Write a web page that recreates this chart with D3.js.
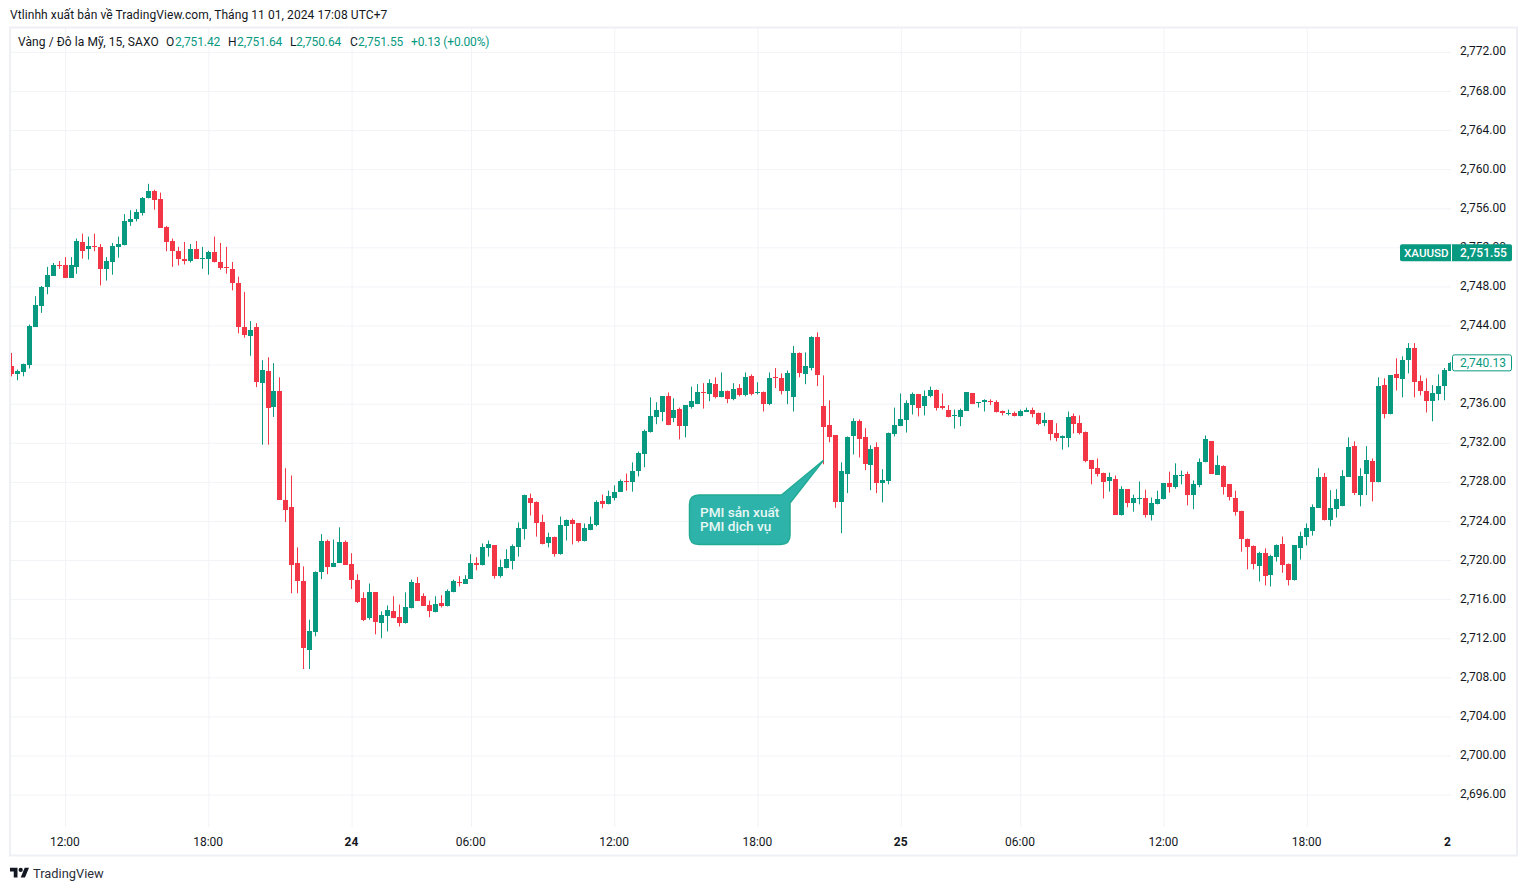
<!DOCTYPE html>
<html>
<head>
<meta charset="utf-8">
<script src="https://cdn.jsdelivr.net/npm/d3@7"></script>
<style>
  html, body { margin: 0; padding: 0; background: #fff; }
  svg { display: block; }
  text { font-family: Roboto, "Noto Sans", sans-serif; }
</style>
</head>
<body>
<svg id="chart"></svg>
<script>
const opens = [
  2739.9,2739,2739.2,2740,2743.9,2746,2747.9,2749.1,2750.2,2750.2,
  2748.9,2750,2752.5,2751.8,2752.15,2752.05,2749.8,2750.55,2752.05,2752.25,
  2754.6,2754.85,2755.55,2757,2757.8,2756.95,2754.1,2752.6,2751.6,2750.8,
  2750.65,2751.85,2750.85,2750.85,2751.55,2750.5,2750,2749.8,2748.35,2743.85,
  2742.95,2743.85,2738.1,2739.3,2735.65,2737.25,2726.1,2725.4,2719.65,2717.9,
  2710.8,2712.65,2718.8,2722,2719.3,2719.7,2721.8,2719.55,2718,2716.1,
  2714.05,2716.7,2713.6,2714.25,2714.75,2714.15,2713.6,2715.05,2717.7,2716.3,
  2715.45,2714.65,2715.65,2715.25,2716.7,2717.8,2717.6,2718.1,2719.65,2719.45,
  2721.2,2721.5,2718.4,2719.15,2719.95,2721.3,2723.15,2726.3,2725.9,2723.85,
  2721.7,2722.4,2720.65,2723.45,2724.05,2723.75,2721.9,2723.05,2723.55,2726,
  2725.7,2726.4,2727,2728.05,2727.95,2729.15,2730.9,2733.15,2734.6,2735.2,
  2736.75,2734.5,2735.5,2733.7,2735.7,2735.95,2737.15,2736.95,2738,2736.65,
  2737.25,2736.45,2737.6,2736.85,2738.8,2737.05,2737.15,2735.95,2738.7,2738.6,
  2737.25,2736.65,2741.15,2739,2739.7,2742.8,2735.75,2733.8,2732.75,2725.9,
  2728.85,2732.65,2734.2,2732.55,2729.7,2731.55,2727.85,2728.05,2732.95,2733.7,
  2734.3,2735.85,2736.95,2735.75,2736.75,2737.45,2735.75,2735.4,2734.7,2734.6,
  2735.3,2737.05,2736.05,2736.2,2736.25,2736.15,2735.3,2735,2735,2734.7,
  2735.2,2735.4,2735,2734,2734.3,2733.05,2732.5,2732.45,2734.7,2734,
  2733.15,2730.2,2729.4,2728.95,2728.05,2728.25,2724.65,2727.25,2725.8,2726.2,
  2726.4,2724.65,2725.7,2726.2,2727.85,2727.5,2728.65,2728.85,2726.7,2727.65,
  2730,2732.15,2728.75,2729.6,2727.75,2726.3,2725.05,2722.2,2721.4,2719.35,
  2720.75,2718.5,2720.35,2721.6,2719.55,2718,2721.2,2722.4,2723,2725.35,
  2728.45,2724.15,2725.2,2725.5,2728.55,2731.65,2726.7,2728.8,2730.1,2727.95,
  2737.9,2734.9,2739,2738.5,2740.45,2741.7,2738.3,2737.35,2736.25,2736.95,2737.8,2739.35
];
const highs = [
  2741.2,2739.5,2740.1,2744.1,2747,2748.05,2750,2750.4,2750.6,2751,
  2751,2752.9,2753.4,2753.1,2753.4,2752.35,2751,2752.45,2753.1,2755.4,
  2755.8,2755.9,2757.15,2758.5,2757.9,2757.6,2754.2,2752.9,2752.05,2752.55,
  2752.35,2752.65,2752.05,2751.65,2753.1,2752.45,2752.05,2750.5,2749,2747.45,
  2744.45,2744.25,2740.45,2740.75,2740.15,2738.7,2729.4,2728.65,2721.3,2719.35,
  2713.9,2718.85,2722.65,2722.1,2722.1,2723.35,2722,2720.7,2718.55,2716.7,
  2717.6,2716.7,2714.75,2715.35,2716.3,2715.45,2716.7,2718,2718.25,2716.6,
  2715.85,2716.3,2716.4,2717,2718,2718.35,2718.45,2720.6,2720.3,2721.7,
  2722,2721.5,2720.05,2721.1,2721.6,2723.85,2726.7,2726.8,2726,2724.65,
  2722.8,2722.4,2724.45,2724.15,2724.25,2723.75,2723.75,2724.45,2726.1,2726.7,
  2727.1,2727.65,2728.25,2728.85,2730,2731.1,2733.35,2736.65,2736.15,2736.75,
  2737.15,2736.55,2735.6,2735.85,2737.75,2738,2738.1,2738.5,2738.7,2739.2,
  2737.35,2738.1,2738,2739.2,2739,2738.2,2737.25,2739.2,2739.65,2739.1,
  2739.4,2741.9,2741.25,2741.25,2742.9,2743.3,2738.9,2736.35,2732.75,2730,
  2732.65,2734.5,2734.4,2733.5,2731.75,2732.05,2729.3,2733.05,2735.6,2737.05,
  2736.35,2737.15,2736.95,2737.35,2737.75,2737.45,2737.05,2735.85,2735.4,2735.5,
  2737.15,2737.05,2736.15,2736.45,2736.45,2736.35,2735.3,2735.4,2735.2,2735.4,
  2735.6,2735.6,2735.1,2735.1,2734.3,2734,2732.75,2735.2,2735,2734.8,
  2733.15,2730.2,2730.4,2728.95,2728.95,2728.65,2727.55,2727.25,2726.7,2728.05,
  2727.2,2726.4,2727.1,2727.85,2729.05,2729.9,2729.15,2729.05,2728.15,2730.4,
  2732.75,2732.15,2730.7,2729.7,2727.75,2727.1,2725.05,2722.2,2721.5,2720.85,
  2721.2,2720.55,2721.6,2722.4,2719.65,2721.5,2722.9,2723.75,2725.7,2729.4,
  2728.9,2727.15,2727.25,2729.2,2732.55,2732.15,2729.4,2731.65,2730.4,2738.7,
  2738.6,2738.9,2740.65,2740.85,2742.2,2742.2,2738.9,2738.6,2737.9,2739,2739.65,2740.25
];
const lows = [
  2738.8,2738.4,2738.8,2739.6,2743.9,2745.3,2747.2,2749.1,2749.8,2748.9,
  2748.9,2749.3,2750.85,2750.75,2751.6,2748.1,2748.6,2749.2,2750.95,2752.2,
  2754.2,2754.65,2755.25,2757,2755.85,2754,2751.6,2750,2750.15,2750.25,
  2750.45,2750.85,2749.8,2749.2,2750.45,2749.7,2749.3,2747.6,2743.2,2742.75,
  2740.9,2737.7,2731.8,2731.8,2734.65,2726.15,2723.9,2716.6,2716.6,2708.85,
  2708.85,2712.2,2718.05,2718.55,2719.3,2719.7,2719.5,2717.05,2715.6,2713.75,
  2713.9,2712.4,2712,2712.7,2714.05,2713.2,2713.5,2715.05,2715.85,2715.35,
  2714.15,2714.65,2715.15,2715.25,2716.7,2717.3,2717.6,2718.1,2718.95,2719.45,
  2720.35,2718.1,2718.2,2719.15,2719.05,2720.35,2722.1,2724.55,2722.4,2721.6,
  2721.3,2720.35,2720.55,2722,2721.6,2721.8,2721.9,2723.05,2723.45,2725.3,
  2725.7,2726.1,2727,2727.1,2727,2728.55,2729.5,2733.05,2733.9,2734.2,
  2733.8,2734.1,2732.35,2732.55,2735.5,2735.95,2735.5,2736.25,2736.55,2736.65,
  2736.05,2736.35,2736.75,2736.75,2736.85,2736.95,2735.2,2735.85,2737.6,2736.95,
  2735.95,2735.2,2738.7,2738,2739.4,2737.8,2729.8,2732.05,2725.35,2722.75,
  2726.85,2730.8,2730.5,2729.2,2727.15,2726.85,2725.9,2727.75,2732.65,2733.7,
  2733.05,2734.9,2734.7,2734.8,2736.65,2735.3,2735.4,2734.6,2733.45,2733.7,
  2735.3,2735.95,2735.6,2735.2,2735.85,2735.1,2734.8,2734.8,2734.7,2734.7,
  2735.2,2734.6,2733.8,2733.7,2732.25,2732.15,2731.3,2731.55,2732.95,2732.85,
  2730,2727.75,2728.55,2726.3,2727,2724.65,2724.55,2725.4,2724.95,2725.7,
  2724.35,2724.05,2725.7,2726.2,2726.9,2727.3,2727.75,2725.6,2725.2,2727.45,
  2730,2728.85,2728.75,2726.7,2726.1,2724.55,2720.85,2719.05,2719.05,2717.8,
  2717.4,2717.3,2719.85,2718.7,2717.4,2717.9,2720.05,2721.5,2722.5,2725.35,
  2724.05,2723.45,2724.35,2725.5,2728.55,2726.65,2725.5,2726.65,2726,2727.95,
  2734.5,2734.9,2737.35,2736.65,2739.1,2736.65,2736.85,2735.1,2734.2,2736.35,2736.35,2739.35
];
const closes = [
  2739,2739.3,2740.1,2744,2746.1,2747.95,2749.2,2750.2,2750.1,2748.9,
  2750.2,2752.6,2751.6,2752.15,2752,2749.8,2750.6,2752.15,2752.35,2754.7,
  2754.9,2755.6,2757.05,2757.8,2756.8,2754,2752.5,2751.65,2750.85,2750.65,
  2751.85,2750.85,2750.9,2751.55,2750.45,2749.9,2749.9,2748.4,2743.8,2743,
  2743.5,2738.25,2739.5,2735.55,2737.25,2726.15,2725.1,2719.5,2717.85,2711,
  2712.7,2718.75,2722,2719.3,2719.75,2721.8,2719.5,2717.95,2715.75,2713.9,
  2716.7,2713.7,2714.35,2714.85,2714.05,2713.6,2715.15,2717.8,2715.85,2715.35,
  2714.75,2715.55,2715.25,2716.8,2717.9,2717.7,2718.1,2719.65,2719.45,2721.3,
  2721.6,2718.4,2719.25,2720.15,2721.4,2723.25,2726.7,2725.8,2723.75,2721.6,
  2722.4,2720.65,2723.55,2724.05,2723.65,2722,2723.25,2723.65,2725.9,2725.7,
  2726.6,2727,2728.05,2727.95,2729.15,2731,2733.25,2734.7,2735.4,2736.75,
  2733.8,2735.4,2733.7,2735.85,2736.25,2737.15,2737.05,2738.1,2736.65,2737.25,
  2736.45,2737.5,2736.85,2738.7,2736.95,2737.15,2735.95,2738.6,2738.6,2737.35,
  2739.1,2741.15,2739.1,2739.85,2742.8,2738.9,2733.6,2732.55,2725.9,2729.1,
  2732.55,2734.2,2732.35,2729.8,2731.35,2727.85,2728.15,2733.05,2733.8,2734.4,
  2736.05,2736.95,2735.6,2736.75,2737.45,2735.6,2735.6,2734.6,2734.8,2735.4,
  2737.15,2735.95,2736.15,2736.35,2736.15,2735.2,2735,2735.1,2734.7,2735.3,
  2735.4,2734.9,2733.9,2734.3,2732.85,2732.45,2732.65,2734.6,2733.9,2733.05,
  2730.1,2729.3,2728.85,2727.95,2728.55,2724.65,2727.25,2725.8,2726.3,2726.4,
  2724.65,2725.8,2726.2,2727.85,2727.5,2728.75,2728.75,2726.7,2727.75,2730,
  2732.35,2728.85,2729.7,2727.5,2726.5,2724.95,2722.2,2721.3,2719.55,2720.75,
  2718.4,2720.45,2721.5,2719.45,2718,2721.5,2722.5,2723.25,2725.4,2728.45,
  2724.15,2725.3,2726.2,2728.65,2731.55,2726.85,2728.65,2730.2,2727.95,2737.8,
  2734.9,2738.9,2738.6,2740.45,2741.7,2738.2,2737.25,2736.25,2737.05,2737.8,2739.4,2740.13
];
// bar index of each time label
const timeTickBars = [9, 33, 57, 77, 101, 125, 149, 169, 193, 217, 240.6];
const timeTickLabels = ["12:00", "18:00", "24", "06:00", "12:00", "18:00", "25", "06:00", "12:00", "18:00", "2"];
const dayLabels = ["24", "25", "2"];
const priceTicks = d3.range(2696, 2773, 4);

const symbolTitle = "Vàng / Đô la Mỹ, 15, SAXO";
const publishLine = "Vtlinhh xuất bản về TradingView.com, Tháng 11 01, 2024 17:08 UTC+7";
const ohlcLabels = ["O", "H", "L", "C"];
const ohlcValues = ["2,751.42", "2,751.64", "2,750.64", "2,751.55"];
const changeText = "+0.13 (+0.00%)";
const overlayPrice = 2751.55;
const lastPrice = 2740.13;
const noteLines = ["PMI sản xuất", "PMI dịch vụ"];
const noteBar = 136;
const notePrice = 2730.2;

const upColor = "#089981";
const downColor = "#f23645";
const gridColor = "#f2f3f7";
const borderColor = "#eff0f5";
const textColor = "#131722";

const width = 1527;
const height = 891;
const pane = { left: 11, right: 1451, top: 28, bottom: 827 };

const svg = d3.select("#chart").attr("width", width).attr("height", height);

const x = d3.scaleLinear().domain([0, 241]).range([11.3, 1450.1]);
const y = d3.scaleLinear().domain([2696, 2772]).range([794.6, 51.9]);
const snap = (v) => Math.round(v - 0.5) + 0.5;

svg.append("defs").append("clipPath").attr("id", "pane")
  .append("rect")
  .attr("x", pane.left).attr("y", pane.top)
  .attr("width", pane.right - pane.left).attr("height", pane.bottom - pane.top);

// Frame around chart and axes.
svg.append("rect")
  .attr("x", 10).attr("y", 27.5)
  .attr("width", 1507).attr("height", 828)
  .attr("fill", "none")
  .attr("stroke", borderColor)
  .attr("stroke-width", 2);

// Grid, drawn with the axis generators.
const hGrid = svg.append("g")
  .attr("transform", `translate(${pane.left},0)`)
  .call(d3.axisRight(y).tickValues(priceTicks).tickSize(pane.right - pane.left).tickFormat(""));
hGrid.select(".domain").remove();
hGrid.selectAll("line").attr("stroke", gridColor);

const vGrid = svg.append("g")
  .attr("transform", `translate(0,${pane.bottom})`)
  .call(d3.axisTop(x).tickValues(timeTickBars.slice(0, -1)).tickSize(pane.bottom - pane.top).tickFormat(""));
vGrid.select(".domain").remove();
vGrid.selectAll("line").attr("stroke", gridColor);

// Candles.
const candles = svg.append("g").attr("clip-path", "url(#pane)");
const bars = d3.range(opens.length);
const barColor = (i) => (closes[i] >= opens[i] ? upColor : downColor);

candles.selectAll("line")
  .data(bars)
  .join("line")
  .attr("x1", (i) => snap(x(i)))
  .attr("x2", (i) => snap(x(i)))
  .attr("y1", (i) => y(highs[i]))
  .attr("y2", (i) => y(lows[i]))
  .attr("stroke", barColor)
  .attr("stroke-width", 1);

candles.selectAll("rect")
  .data(bars)
  .join("rect")
  .attr("x", (i) => snap(x(i)) - 2.5)
  .attr("width", 5)
  .attr("y", (i) => Math.round(y(Math.max(opens[i], closes[i]))))
  .attr("height", (i) =>
    Math.max(1, Math.round(y(Math.min(opens[i], closes[i]))) - Math.round(y(Math.max(opens[i], closes[i]))))
  )
  .attr("fill", barColor);

// Price axis.
const priceAxis = svg.append("g")
  .attr("transform", "translate(1460,-0.8)")
  .call(d3.axisRight(y).tickValues(priceTicks).tickSize(0).tickPadding(0).tickFormat(d3.format(",.2f")));
priceAxis.select(".domain").remove();
priceAxis.selectAll("text")
  .attr("font-size", 12)
  .attr("fill", textColor)
  .style("font-family", "Roboto, sans-serif");

// Time axis.
const timeAxis = svg.append("g")
  .attr("transform", "translate(-0.7,837)")
  .call(d3.axisBottom(x).tickValues(timeTickBars).tickSize(0).tickPadding(0)
    .tickFormat((d) => timeTickLabels[timeTickBars.indexOf(d)]));
timeAxis.select(".domain").remove();
timeAxis.selectAll("text")
  .attr("font-size", 12)
  .attr("fill", textColor)
  .attr("font-weight", (d) => (dayLabels.includes(timeTickLabels[timeTickBars.indexOf(d)]) ? 700 : 400));

// Header lines.
svg.append("text").attr("x", 10).attr("y", 19)
  .attr("font-size", 12).attr("letter-spacing", 0.08).attr("fill", textColor).text(publishLine);
svg.append("text").attr("x", 18).attr("y", 46)
  .attr("font-size", 12).attr("letter-spacing", 0.08).attr("fill", textColor).text(symbolTitle);

const ohlcLabelX = [166, 228, 290, 350];
const ohlcValueX = [175, 237, 296, 358];
ohlcLabels.forEach((label, i) => {
  svg.append("text").attr("x", ohlcLabelX[i]).attr("y", 46)
    .attr("font-size", 12).attr("fill", textColor).text(label);
  svg.append("text").attr("x", ohlcValueX[i]).attr("y", 46)
    .attr("font-size", 12).attr("letter-spacing", -0.1).attr("fill", upColor).text(ohlcValues[i]);
});
svg.append("text").attr("x", 411).attr("y", 46)
  .attr("font-size", 12).attr("letter-spacing", -0.15).attr("fill", upColor).text(changeText);

// Overlay symbol price tag.
const tagY = y(overlayPrice) + 1;
svg.append("rect")
  .attr("x", 1400).attr("y", tagY - 8.5)
  .attr("width", 112).attr("height", 17)
  .attr("rx", 2).attr("fill", upColor);
svg.append("line")
  .attr("x1", 1451.5).attr("x2", 1451.5)
  .attr("y1", tagY - 8.5).attr("y2", tagY + 8.5)
  .attr("stroke", "#fff");
svg.append("text").attr("x", 1404).attr("y", tagY + 4)
  .attr("font-size", 11.6).attr("font-weight", 500).attr("fill", "#fff").text("XAUUSD");
svg.append("text").attr("x", 1460).attr("y", tagY + 4)
  .attr("font-size", 12).attr("font-weight", 500).attr("fill", "#fff").text(d3.format(",.2f")(overlayPrice));

// Last price tag.
const lastY = y(lastPrice) - 0.5;
svg.append("rect")
  .attr("x", 1452.5).attr("y", lastY - 8)
  .attr("width", 59).attr("height", 16)
  .attr("rx", 2).attr("fill", "#fff")
  .attr("stroke", upColor);
svg.append("text").attr("x", 1460).attr("y", lastY + 4)
  .attr("font-size", 12).attr("fill", upColor).text(d3.format(",.2f")(lastPrice));

// Callout pointing at the candle of the PMI release.
const tipX = snap(x(noteBar));
const tipY = y(notePrice);
const bubble = d3.path();
bubble.moveTo(699, 495);
bubble.lineTo(781.5, 495);
bubble.lineTo(tipX, tipY);
bubble.lineTo(790, 503);
bubble.lineTo(790, 535);
bubble.quadraticCurveTo(790, 544.5, 780.5, 544.5);
bubble.lineTo(699, 544.5);
bubble.quadraticCurveTo(689.5, 544.5, 689.5, 535);
bubble.lineTo(689.5, 504.5);
bubble.quadraticCurveTo(689.5, 495, 699, 495);
bubble.closePath();
svg.append("path")
  .attr("d", bubble.toString())
  .attr("fill", "#2db3a9")
  .attr("stroke", "#22ab94")
  .attr("stroke-width", 1.5);
noteLines.forEach((line, i) => {
  svg.append("text").attr("x", 700).attr("y", 517 + i * 14)
    .attr("font-size", 13.6).attr("font-weight", 500).attr("fill", "#e8f7f5").text(line);
});

// Logo and wordmark.
const logo = svg.append("g")
  .attr("transform", "translate(10,865.7) scale(0.535)")
  .attr("fill", textColor);
logo.append("path").attr("d", "M14 22H7V11H0V4h14v18zM28 22h-8l7.5-18h8L28 22z");
logo.append("circle").attr("cx", 20).attr("cy", 8).attr("r", 4);
svg.append("text").attr("x", 33).attr("y", 878)
  .attr("font-size", 12.85).attr("fill", "#2a2e39").text("TradingView");
</script>
</body>
</html>
